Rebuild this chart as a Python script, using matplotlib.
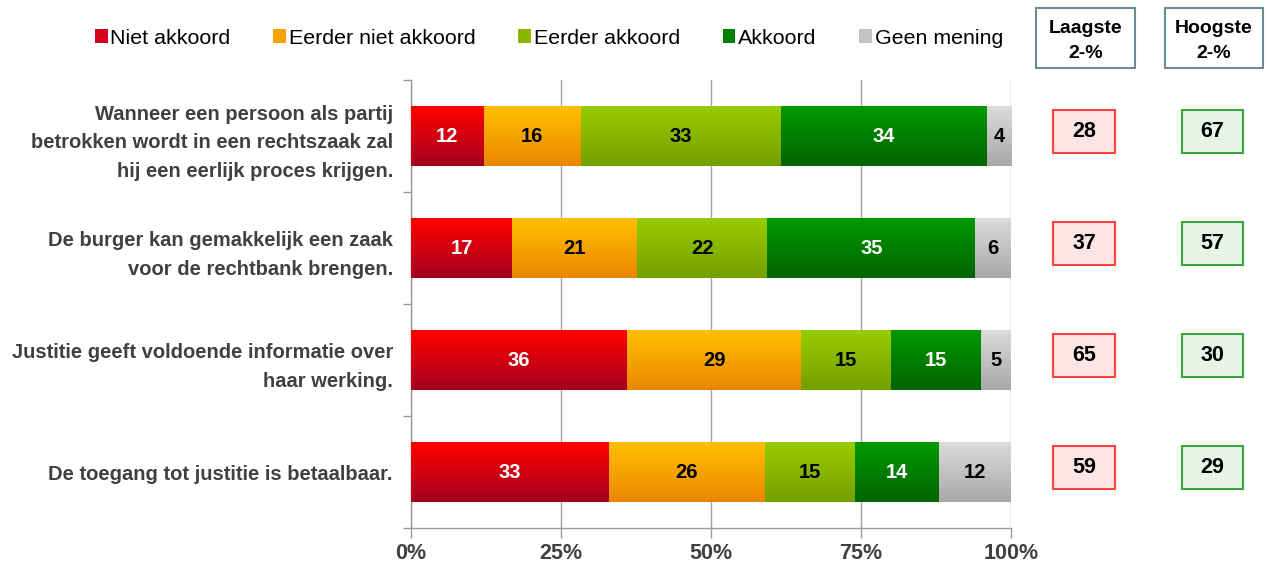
import numpy as np
import matplotlib
matplotlib.use("Agg")
import matplotlib.pyplot as plt
from matplotlib.patches import Patch, Rectangle
from matplotlib.colors import to_rgb

plt.rcParams['font.family'] = ['Liberation Sans', 'DejaVu Sans']

# ---------------- data ----------------
categories = [
    "Wanneer een persoon als partij\nbetrokken wordt in een rechtszaak zal\nhij een eerlijk proces krijgen.",
    "De burger kan gemakkelijk een zaak\nvoor de rechtbank brengen.",
    "Justitie geeft voldoende informatie over\nhaar werking.",
    "De toegang tot justitie is betaalbaar.",
]
series_names = ["Niet akkoord", "Eerder niet akkoord", "Eerder akkoord", "Akkoord", "Geen mening"]
niet_akkoord = [12, 17, 36, 33]
eerder_niet_akkoord = [16, 21, 29, 26]
eerder_akkoord = [33, 22, 15, 15]
akkoord = [34, 35, 15, 14]
geen_mening = [4, 6, 5, 12]
laagste = [28, 37, 65, 59]
hoogste = [67, 57, 30, 29]
box_titles = [("Laagste", "2-%"), ("Hoogste", "2-%")]
x_ticks = [0, 25, 50, 75, 100]
x_tick_labels = ["0%", "25%", "50%", "75%", "100%"]

# ---------------- style ----------------
top_colors = ["#ff0000", "#ffc000", "#99cc00", "#009900", "#dcdcdc"]
bot_colors = ["#a50021", "#ec8600", "#74a000", "#006400", "#a8a8a8"]
mid_colors = ["#d9001b", "#f6a300", "#88b800", "#008000", "#c4c4c4"]
text_colors = ["white", "black", "black", "white", "black"]

W, H = 1269, 562
fig = plt.figure(figsize=(W / 100, H / 100), dpi=100)
ax_l, ax_r, ax_t, ax_b = 411, 1011, 80, 528
ax = fig.add_axes([ax_l / W, 1 - ax_b / H, (ax_r - ax_l) / W, (ax_b - ax_t) / H])

series = [niet_akkoord, eerder_niet_akkoord, eerder_akkoord, akkoord, geen_mening]
data = np.array(series, dtype=float)
totals = data.sum(axis=0)
pct = data / totals * 100

ypos = np.arange(len(categories)) + 0.5
bar_h = 60 / 112
left = np.zeros(len(categories))
for k in range(len(series)):
    bars = ax.barh(ypos, pct[k], left=left, height=bar_h, color=mid_colors[k],
                   edgecolor='none', zorder=3)
    grad = np.array([to_rgb(top_colors[k]), to_rgb(bot_colors[k])])
    n = 64
    t = np.linspace(0, 1, n)[:, None]
    img = (grad[0] * (1 - t) + grad[1] * t)[:, None, :]
    for b, v, l, y in zip(bars, series[k], left, ypos):
        im = ax.imshow(img, extent=(l, l + b.get_width(), y + bar_h / 2, y - bar_h / 2),
                       origin='upper', aspect='auto', zorder=4, interpolation='bilinear')
        im.set_clip_path(b)
        ax.text(l + b.get_width() / 2, y, str(v), ha='center', va='center',
                fontsize=14.5, fontweight='bold', color=text_colors[k], zorder=5)
    left = left + pct[k]

ax.set_xlim(0, 100)
ax.set_ylim(len(categories), 0)
ax.set_xticks(x_ticks)
ax.set_xticklabels(x_tick_labels)
ax.tick_params(axis='x', direction='out', length=7, color='#999999', width=1,
               labelsize=15.5, labelcolor='#404040', pad=4)
for lab in ax.get_xticklabels():
    lab.set_fontweight('bold')
ax.set_yticks(np.arange(len(categories) + 1))
ax.set_yticklabels([])
ax.set_yticks(ypos, minor=True)
ax.set_yticklabels(categories, minor=True)
ax.tick_params(axis='y', which='major', direction='out', length=6, color='#999999', width=1)
ax.tick_params(axis='y', which='minor', length=0, pad=13, labelsize=14.5, labelcolor='#404040')
for lab in ax.get_yticklabels(minor=True):
    lab.set_fontweight('bold')
    lab.set_ha('right')
    lab.set_multialignment('right')
    lab.set_linespacing(1.65)
ax.grid(axis='x', color='#a0a0a0', linewidth=1, zorder=0)
ax.set_axisbelow(True)
for s in ['top', 'right']:
    ax.spines[s].set_visible(False)
for s in ['left', 'bottom']:
    ax.spines[s].set_color('#999999')
    ax.spines[s].set_linewidth(1)

# legend
handles = [Patch(facecolor=c, edgecolor='none') for c in mid_colors]
fig.legend(handles, series_names, loc='center', ncol=5,
           bbox_to_anchor=(549 / W, 1 - 38 / H), frameon=False, fontsize=15.4,
           handlelength=0.6, handleheight=0.6, handletextpad=0.12, columnspacing=2.0)

# right-hand boxes
ax2 = fig.add_axes([1030 / W, 1 - ax_b / H, (W - 1030) / W, (ax_b - ax_t) / H])
ax2.set_xlim(1030, W)
ax2.set_ylim(len(categories), 0)
ax2.axis('off')


def py(p):
    return (p - ax_t) / 112


for (x0, x1), (t1, t2) in zip([(1036, 1135), (1165, 1263)], box_titles):
    ax2.add_patch(Rectangle((x0, py(8)), x1 - x0, py(68) - py(8), facecolor='white',
                            edgecolor='#6e8c94', linewidth=1.5, clip_on=False))
    ax2.text((x0 + x1) / 2, py(33), t1, ha='center', va='baseline',
             fontsize=14, fontweight='bold', clip_on=False)
    ax2.text((x0 + x1) / 2, py(58), t2, ha='center', va='baseline',
             fontsize=14, fontweight='bold', clip_on=False)

box_h = 43 / 112
for y, lo, hi in zip(ypos, laagste, hoogste):
    yc = y - 0.04
    ax2.add_patch(Rectangle((1053, yc - box_h / 2), 62, box_h, facecolor='#fde4e4',
                            edgecolor='#ff4040', linewidth=1.5, clip_on=False))
    ax2.text(1084, yc, str(lo), ha='center', va='center', fontsize=15.5, fontweight='bold')
    ax2.add_patch(Rectangle((1182, yc - box_h / 2), 61, box_h, facecolor='#e6f4e6',
                            edgecolor='#3aa53a', linewidth=1.5, clip_on=False))
    ax2.text(1212.5, yc, str(hi), ha='center', va='center', fontsize=15.5, fontweight='bold')

fig.savefig("out.png", dpi=100)
